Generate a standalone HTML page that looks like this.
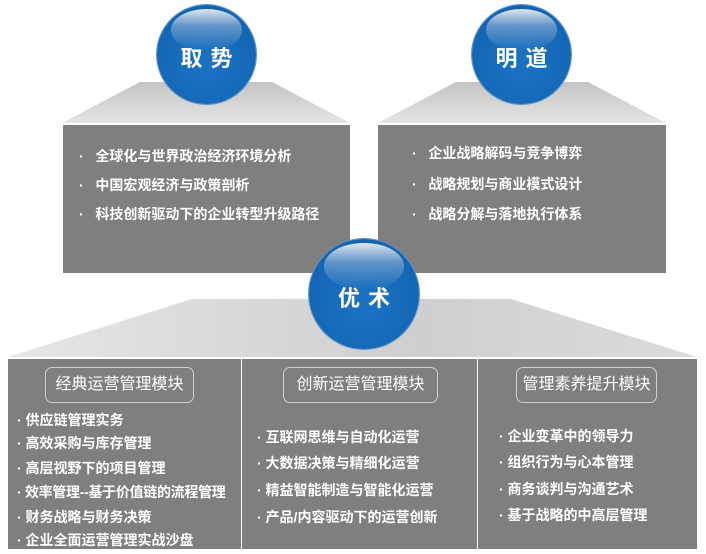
<!DOCTYPE html>
<html><head><meta charset="utf-8"><style>
body{margin:0;width:706px;height:554px;background:#fff;position:relative;overflow:hidden;font-family:"Liberation Sans","Noto Sans CJK SC",sans-serif}
.a{position:absolute}
.box{position:absolute;background:#7f7f7f}
.t{position:absolute;color:#fff;font-weight:bold;font-size:14px;white-space:nowrap;line-height:16px}
.h{position:absolute;border:1px solid #d0d0d0;border-radius:7px;color:#fff;font-size:16px;text-align:center;line-height:34px;height:34px}
.c{position:absolute;border-radius:50%;background:radial-gradient(circle at 50% 62%,#1b72c4 0%,#1468b6 60%,#0f5ea8 100%);box-shadow:0 0 0 1px #5d93c9;overflow:hidden}
.c:before{content:"";position:absolute;left:14%;top:4%;width:72%;height:42%;border-radius:50%;background:linear-gradient(#dfe6f0 0%,rgba(150,180,215,.6) 40%,rgba(30,110,190,0) 100%)}
.c span{position:absolute;left:0;right:0;text-align:center;color:#fff;font-weight:bold;letter-spacing:8px;text-indent:8px}
</style></head><body>
<svg class="a" style="left:0;top:0" width="706" height="554">
<defs><linearGradient id="g" x1="0" y1="0" x2="0" y2="1"><stop offset="0" stop-color="#c4c4c4"/><stop offset="1" stop-color="#e4e4e4"/></linearGradient>
<linearGradient id="g2" x1="0" y1="0" x2="1" y2="0"><stop offset="0" stop-color="#e6e6e6"/><stop offset="0.6" stop-color="#cfcfcf"/><stop offset="1" stop-color="#dcdcdc"/></linearGradient></defs>
<polygon points="140,82 272,82 350,123 62,123" fill="url(#g)"/>
<polygon points="456,82 588,82 666,123 378,123" fill="url(#g)"/>
<polygon points="192,299 511,299 697,357 8,357" fill="url(#g2)"/>
</svg>
<div class="box" style="left:63px;top:125px;width:287px;height:148px"></div>
<div class="box" style="left:378px;top:125px;width:288px;height:148px"></div>
<div class="box" style="left:8px;top:359px;width:689px;height:190px"></div>
<div class="a" style="left:241px;top:359px;width:1px;height:190px;background:#fff"></div>
<div class="a" style="left:477px;top:359px;width:1px;height:190px;background:#fff"></div>

<div class="c" style="left:157px;top:5px;width:99px;height:99px"><span style="top:36px;font-size:22px">取势</span></div>
<div class="c" style="left:472px;top:5px;width:99px;height:99px"><span style="top:36px;font-size:22px">明道</span></div>
<div class="c" style="left:309px;top:239px;width:110px;height:110px"><span style="top:42px;font-size:22px">优术</span></div>

<div class="t" style="left:79px;top:148px">·&nbsp;&nbsp; 全球化与世界政治经济环境分析</div>
<div class="t" style="left:79px;top:177px">·&nbsp;&nbsp; 中国宏观经济与政策剖析</div>
<div class="t" style="left:79px;top:206px">·&nbsp;&nbsp; 科技创新驱动下的企业转型升级路径</div>
<div class="t" style="left:412px;top:145px">·&nbsp;&nbsp; 企业战略解码与竞争博弈</div>
<div class="t" style="left:412px;top:176px">·&nbsp;&nbsp; 战略规划与商业模式设计</div>
<div class="t" style="left:412px;top:206px">·&nbsp;&nbsp; 战略分解与落地执行体系</div>

<div class="h" style="left:45px;top:367px;width:147px">经典运营管理模块</div>
<div class="h" style="left:283px;top:367px;width:153px">创新运营管理模块</div>
<div class="h" style="left:516px;top:367px;width:139px">管理素养提升模块</div>

<div class="t" style="left:17px;top:412px">· 供应链管理实务</div>
<div class="t" style="left:17px;top:435px">· 高效采购与库存管理</div>
<div class="t" style="left:17px;top:460px">· 高层视野下的项目管理</div>
<div class="t" style="left:17px;top:484px;letter-spacing:-0.3px">· 效率管理--基于价值链的流程管理</div>
<div class="t" style="left:17px;top:509px">· 财务战略与财务决策</div>
<div class="t" style="left:17px;top:532px">· 企业全面运营管理实战沙盘</div>

<div class="t" style="left:257px;top:429px">· 互联网思维与自动化运营</div>
<div class="t" style="left:257px;top:455px">· 大数据决策与精细化运营</div>
<div class="t" style="left:257px;top:482px">· 精益智能制造与智能化运营</div>
<div class="t" style="left:257px;top:509px">· 产品/内容驱动下的运营创新</div>

<div class="t" style="left:499px;top:428px">· 企业变革中的领导力</div>
<div class="t" style="left:499px;top:454px">· 组织行为与心本管理</div>
<div class="t" style="left:499px;top:481px">· 商务谈判与沟通艺术</div>
<div class="t" style="left:499px;top:507px">· 基于战略的中高层管理</div>
</body></html>
